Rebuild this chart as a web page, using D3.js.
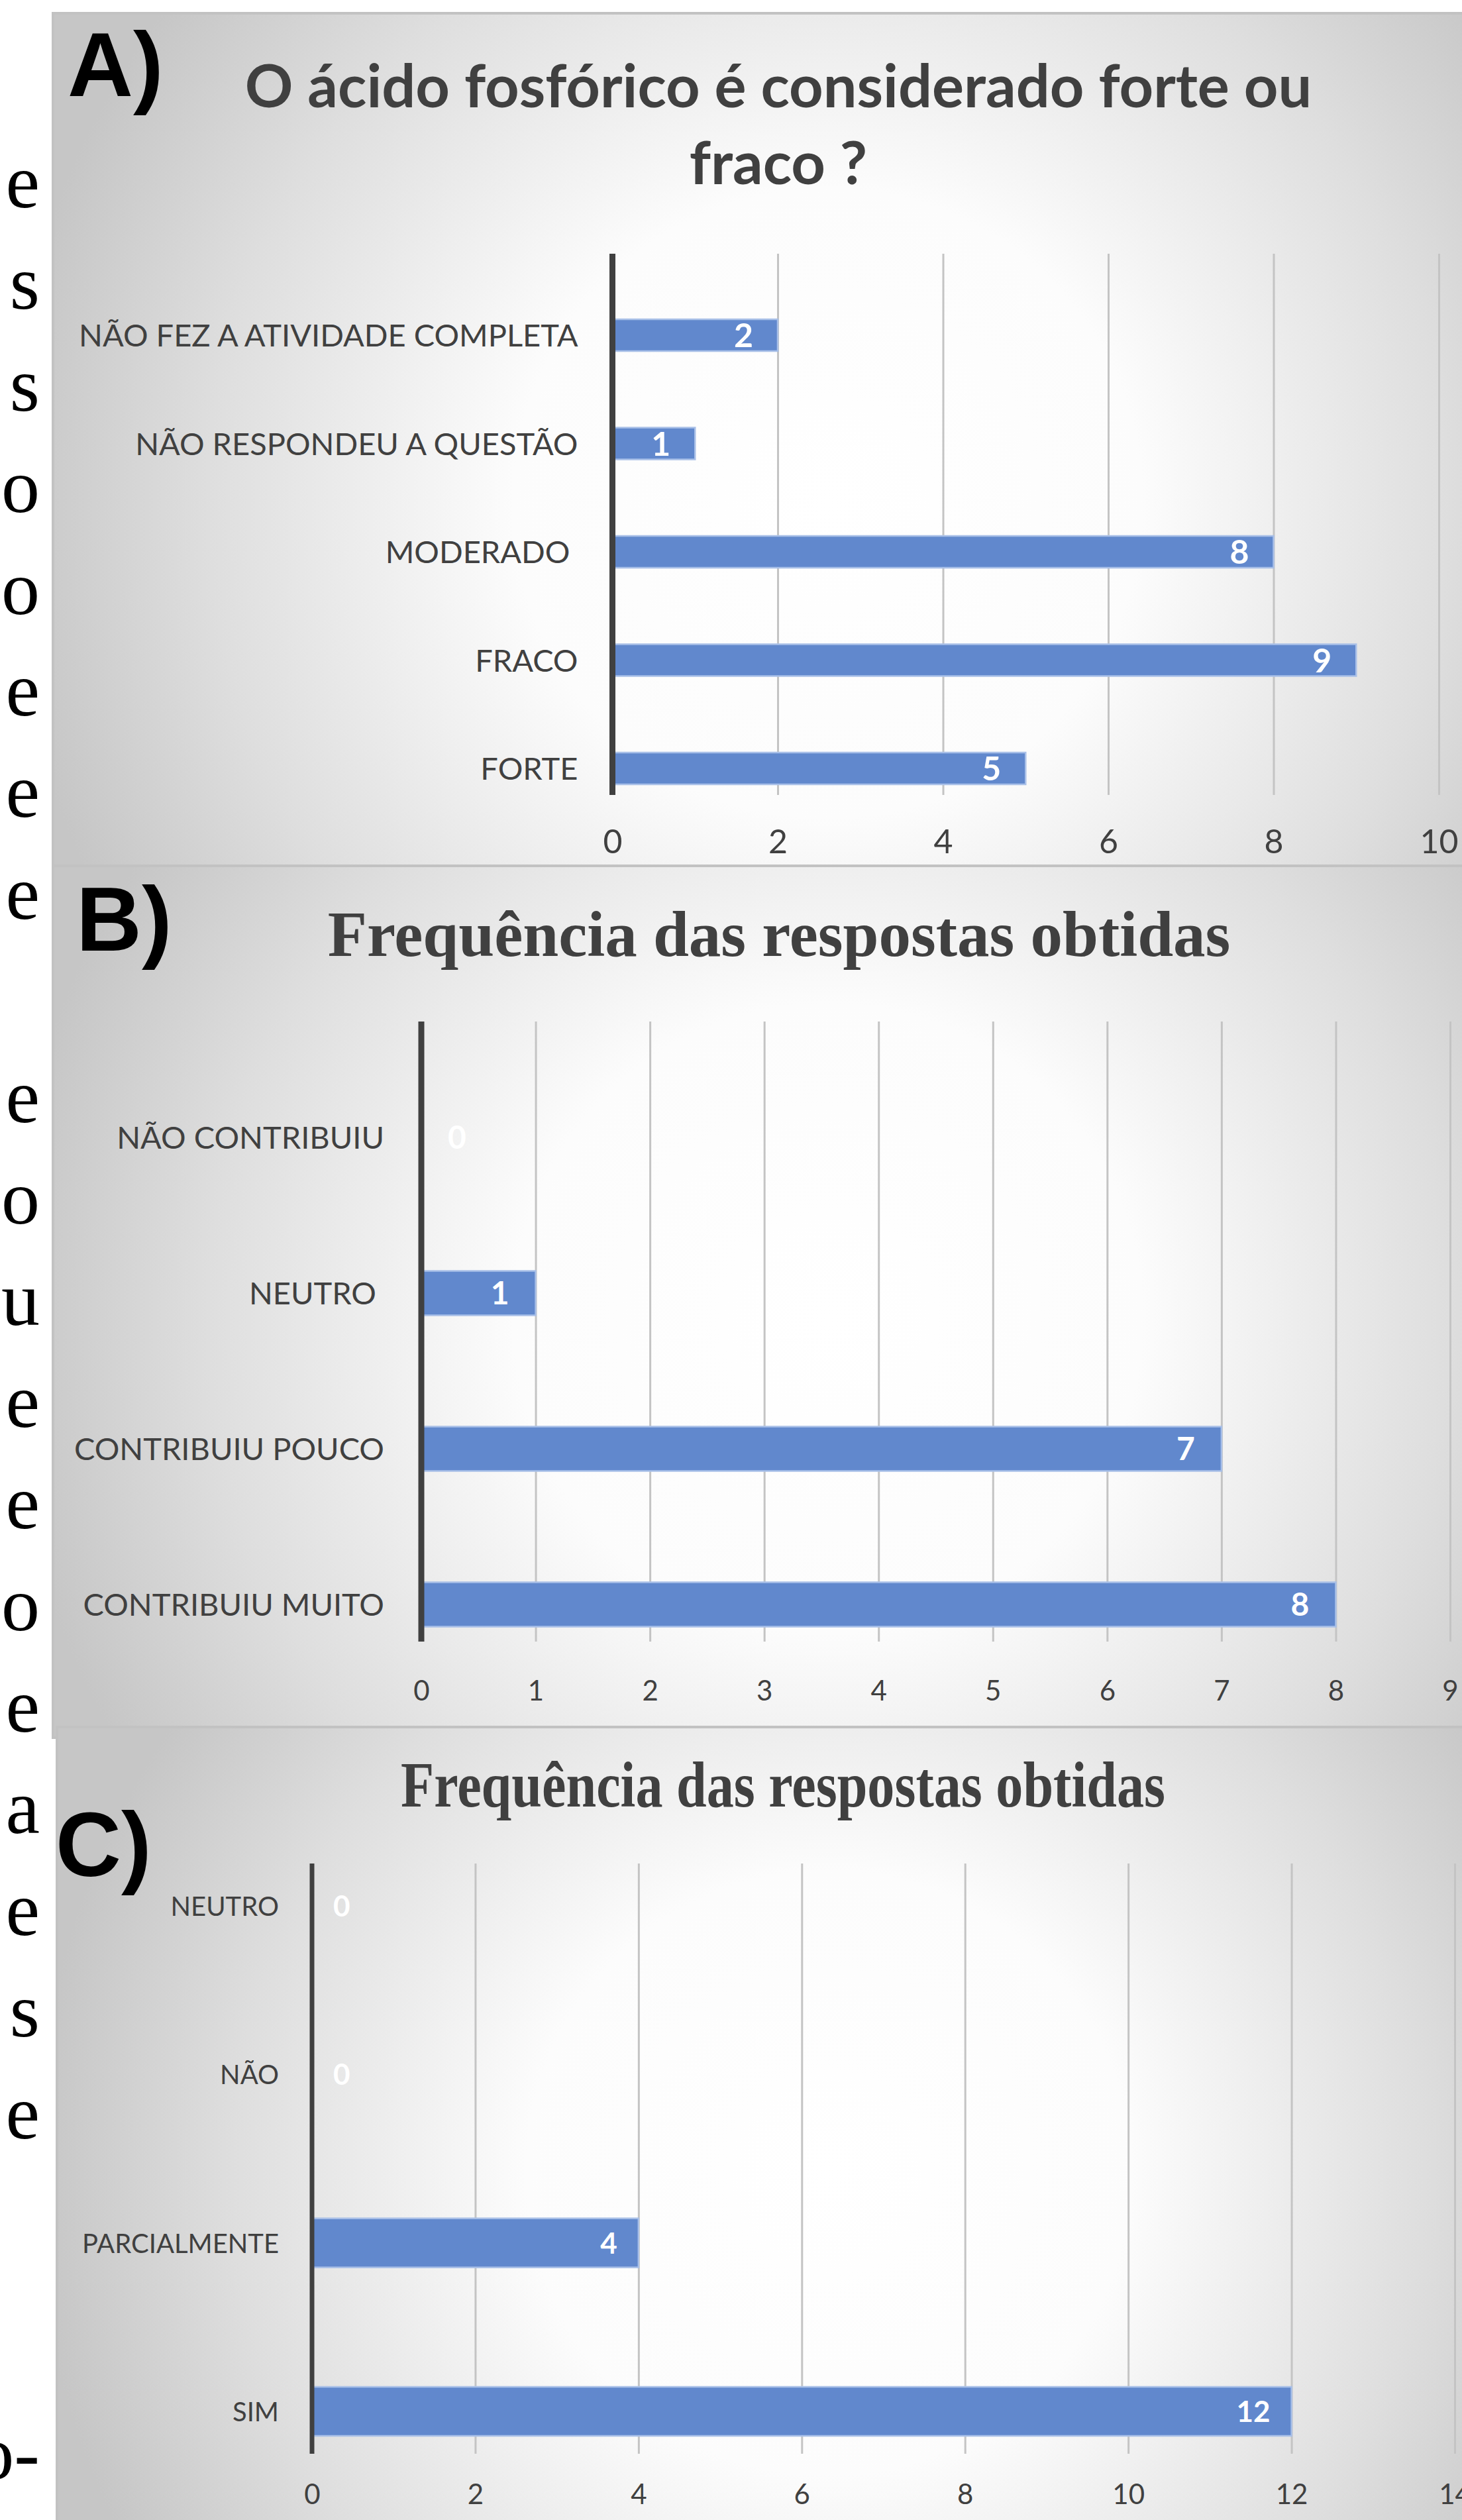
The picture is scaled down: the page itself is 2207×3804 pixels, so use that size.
<!DOCTYPE html>
<html>
<head>
<meta charset="utf-8">
<script src="https://cdn.jsdelivr.net/npm/d3@7"></script>
<style>
  html, body { margin: 0; padding: 0; background: #ffffff; }
  svg { display: block; }
  text { white-space: pre; }
</style>
</head>
<body>
<svg id="fig" width="2207" height="3804"></svg>
<script>
// ---- Panel A: "O ácido fosfórico é considerado forte ou fraco ?"
const titleA = ["O ácido fosfórico é considerado forte ou", "fraco ?"];
const categoriesA = ["NÃO FEZ A ATIVIDADE COMPLETA", "NÃO RESPONDEU A QUESTÃO", "MODERADO ", "FRACO", "FORTE"];
const valuesA = [2, 1, 8, 9, 5];
const ticksA = [0, 2, 4, 6, 8, 10];

// ---- Panel B: frequency of answers
const titleB = "Frequência das respostas obtidas";
const categoriesB = ["NÃO CONTRIBUIU", "NEUTRO ", "CONTRIBUIU POUCO", "CONTRIBUIU MUITO"];
const valuesB = [0, 1, 7, 8];
const ticksB = [0, 1, 2, 3, 4, 5, 6, 7, 8, 9];

// ---- Panel C: frequency of answers
const titleC = "Frequência das respostas obtidas";
const categoriesC = ["NEUTRO", "NÃO", "PARCIALMENTE", "SIM"];
const valuesC = [0, 0, 4, 12];
const ticksC = [0, 2, 4, 6, 8, 10, 12, 14];

// ---- Line endings of the surrounding document text (left margin)
const marginText = ["e", "s", "s", "o", "o", "e", "e", "e", "", "e", "o", "u", "e", "e", "o", "e", "a", "e", "s", "e"];
const marginTail = "o-";

const svg = d3.select("#fig");
const defs = svg.append("defs");

const CALIBRI = "Lato, 'Open Sans', sans-serif";
const TIMES = "'Liberation Serif', 'DejaVu Serif', serif";
const ARIAL = "'Liberation Sans', Arial, sans-serif";
const INK = "#404040";
const BAR = "#6188cd";
const BAR_EDGE = "#a9c0e8";

// margin text, justified to a common right edge
svg.append("g")
  .selectAll("text")
  .data(marginText)
  .join("text")
  .attr("x", 60)
  .attr("y", (d, i) => 313 + i * 153.4)
  .attr("text-anchor", "end")
  .attr("font-family", TIMES)
  .attr("font-size", 116)
  .attr("fill", "#000")
  .text(d => d);
svg.append("text")
  .attr("x", 60).attr("y", 3742)
  .attr("text-anchor", "end")
  .attr("font-family", TIMES)
  .attr("font-size", 116)
  .attr("fill", "#000")
  .text(marginTail);

function drawPanel(cfg) {
  const g = svg.append("g");

  // framed background with a soft radial fill
  const gid = "bg-" + cfg.id;
  const grad = defs.append("radialGradient")
    .attr("id", gid)
    .attr("gradientUnits", "userSpaceOnUse")
    .attr("cx", cfg.glow[0]).attr("cy", cfg.glow[1])
    .attr("fx", cfg.glow[0]).attr("fy", cfg.glow[1])
    .attr("r", cfg.glow[2]);
  grad.append("stop").attr("offset", 0).attr("stop-color", "#ffffff");
  grad.append("stop").attr("offset", 0.38).attr("stop-color", "#fcfcfc");
  grad.append("stop").attr("offset", 0.75).attr("stop-color", "#dedede");
  grad.append("stop").attr("offset", 1).attr("stop-color", "#c6c6c6");

  g.append("rect")
    .attr("x", cfg.box[0]).attr("y", cfg.box[1])
    .attr("width", cfg.box[2]).attr("height", cfg.box[3])
    .attr("fill", `url(#${gid})`)
    .attr("stroke", "#c2c2c2")
    .attr("stroke-width", 4);

  // panel letter
  g.append("text")
    .attr("x", cfg.letterPos[0]).attr("y", cfg.letterPos[1])
    .attr("font-family", ARIAL).attr("font-weight", 700)
    .attr("font-size", 137).attr("fill", "#000")
    .text(cfg.letter);

  // title
  const title = g.append("text")
    .attr("text-anchor", "middle")
    .attr("fill", INK)
    .attr("font-family", cfg.titleFont)
    .attr("font-weight", 700)
    .attr("font-size", cfg.titleSize);
  cfg.title.forEach((line, i) => {
    const t = title.append("tspan")
      .attr("x", cfg.titleX)
      .attr("y", cfg.titleY[i])
      .text(line);
    if (cfg.titleLength) t.attr("textLength", cfg.titleLength).attr("lengthAdjust", "spacingAndGlyphs");
  });

  // scales
  const x = d3.scaleLinear()
    .domain([0, d3.max(cfg.ticks)])
    .range([cfg.axisX, cfg.xEnd]);
  const y = d3.scalePoint()
    .domain(cfg.categories)
    .range([cfg.firstCenter, cfg.lastCenter]);

  // vertical gridlines + value tick labels
  const xAxis = d3.axisBottom(x)
    .tickValues(cfg.ticks)
    .tickFormat(d3.format("d"))
    .tickSize(-(cfg.plotBottom - cfg.plotTop))
    .tickPadding(cfg.tickPad);
  const gx = g.append("g")
    .attr("transform", `translate(0,${cfg.plotBottom})`)
    .call(xAxis);
  gx.select(".domain").remove();
  gx.selectAll(".tick line")
    .attr("stroke", "#c4c4c4")
    .attr("stroke-width", 3);
  gx.selectAll(".tick text")
    .attr("fill", INK)
    .attr("font-family", CALIBRI)
    .attr("font-size", cfg.tickSize);

  // category labels
  const yAxis = d3.axisLeft(y).tickSize(0).tickPadding(cfg.catPad);
  const gy = g.append("g")
    .attr("transform", `translate(${cfg.axisX},0)`)
    .call(yAxis);
  gy.select(".domain").remove();
  gy.selectAll(".tick text")
    .attr("fill", INK)
    .attr("font-family", CALIBRI)
    .attr("font-size", cfg.catSize)
    .attr("dy", "0.36em");

  const rows = cfg.categories.map((c, i) => ({ c, v: cfg.values[i] }));

  // bars
  g.append("g")
    .selectAll("rect")
    .data(rows.filter(d => d.v > 0))
    .join("rect")
    .attr("x", x(0))
    .attr("y", d => y(d.c) - cfg.barH / 2)
    .attr("width", d => x(d.v) - x(0))
    .attr("height", cfg.barH)
    .attr("fill", BAR)
    .attr("stroke", BAR_EDGE)
    .attr("stroke-width", 2.5);

  // category axis line
  g.append("line")
    .attr("x1", x(0)).attr("x2", x(0))
    .attr("y1", cfg.plotTop).attr("y2", cfg.plotBottom)
    .attr("stroke", INK)
    .attr("stroke-width", cfg.axisW);

  // value labels (inside end)
  g.append("g")
    .selectAll("text")
    .data(rows)
    .join("text")
    .attr("x", d => d.v > 0 ? x(d.v) - cfg.labelPad : x(0) + cfg.labelPad)
    .attr("y", d => y(d.c))
    .attr("dy", "0.36em")
    .attr("text-anchor", d => d.v > 0 ? "end" : "start")
    .attr("fill", "#ffffff")
    .attr("font-family", CALIBRI)
    .attr("font-weight", 700)
    .attr("font-size", cfg.labelSize)
    .text(d => d.v);
}

drawPanel({
  id: "a", letter: "A)", letterPos: [102, 145],
  box: [80, 20, 2140, 1287], glow: [1250, 760, 1250],
  title: titleA, titleFont: CALIBRI, titleSize: 90, titleX: 1175, titleY: [162, 278],
  categories: categoriesA, values: valuesA, ticks: ticksA,
  axisX: 924.5, xEnd: 2172, plotTop: 383, plotBottom: 1200,
  firstCenter: 506, lastCenter: 1160, barH: 48, axisW: 9,
  tickPad: 52, tickSize: 50, catPad: 52, catSize: 47,
  labelPad: 37, labelSize: 50
});

drawPanel({
  id: "b", letter: "B)", letterPos: [115, 1435],
  box: [80, 1307, 2140, 1316], glow: [1250, 1990, 1250],
  title: [titleB], titleFont: TIMES, titleSize: 97, titleX: 1176, titleY: [1443],
  categories: categoriesB, values: valuesB, ticks: ticksB,
  axisX: 636, xEnd: 2189, plotTop: 1542, plotBottom: 2478,
  firstCenter: 1717, lastCenter: 2422, barH: 67, axisW: 9,
  tickPad: 59, tickSize: 42, catPad: 56, catSize: 47,
  labelPad: 40, labelSize: 48
});

drawPanel({
  id: "c", letter: "C)", letterPos: [84, 2832],
  box: [86, 2607, 2140, 1210], glow: [1250, 3280, 1200],
  title: [titleC], titleFont: TIMES, titleSize: 97, titleX: 1182, titleY: [2727], titleLength: 1154,
  categories: categoriesC, values: valuesC, ticks: ticksC,
  axisX: 471, xEnd: 2196, plotTop: 2813, plotBottom: 3704,
  firstCenter: 2877, lastCenter: 3640, barH: 74, axisW: 7,
  tickPad: 46, tickSize: 42, catPad: 50, catSize: 40,
  labelPad: 32, labelSize: 44
});
</script>
</body>
</html>
